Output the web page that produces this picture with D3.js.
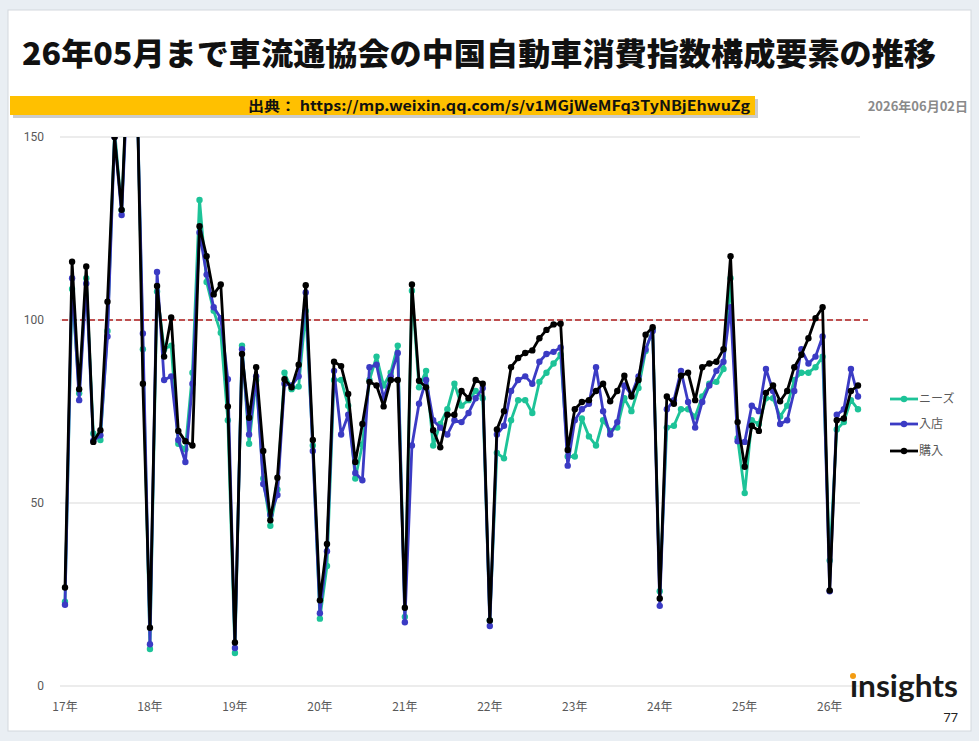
<!DOCTYPE html>
<html>
<head>
<meta charset="utf-8">
<script src="https://cdn.jsdelivr.net/npm/d3@7"></script>
<style>
  body { margin: 0; background: #e9eef3; }
  svg { display: block; font-family: "Noto Sans CJK JP", "Noto Sans", sans-serif; }
</style>
</head>
<body>
<svg id="chart" width="979" height="741"></svg>
<script>
// monthly values, 2017-01 .. 2026-05
const needs = [23,108.5,80,111.4,69,67.2,97,152,130,175,178,92,
  10.1,107.8,92,93,66.2,64.7,85.6,132.8,110.4,102.5,96.5,72.6,
  9,93,66.2,83.6,56.7,43.8,53.7,85.6,81.1,81.8,102.5,65.7,
  18.4,32.8,83.6,83.6,76.6,56.7,66,83.6,90,82.1,85.6,93,
  18.9,108,81.6,86.1,65.7,71.6,75.6,82.6,76.6,78.1,80.6,78.6,
  17.9,63.7,62.2,72.6,78.1,78.1,74.6,83.1,85.6,88.1,90.5,62.7,
  62.7,73.1,68.2,65.7,72.6,69.7,70.6,78.6,75.1,81.4,91.5,97.5,
  25.9,70.6,71.1,75.6,75.6,73.6,79.1,82.6,83.1,86.6,111.4,67.7,
  52.7,72.6,71.6,78.6,78.6,73.6,76.6,83.6,85.6,85.6,87.1,90,
  34.3,70.1,72.1,78.1,75.6];
const visit = [22.2,111.4,78.1,110,67,68.5,95.5,150,128.7,172,175,96.3,
  11.4,113.1,83.6,84.6,67.2,61.2,82.6,123.9,112.4,103.5,100.5,83.8,
  10.4,92,68.7,84.6,55.2,46.8,52.2,82.6,82.1,84.6,107.5,64.2,
  19.9,36.8,86.1,68.7,74.1,58.2,56.2,87.1,87.8,78.6,84.6,91,
  17.4,65.7,77.1,83.6,72.6,70.6,68.7,72.6,72.1,74.6,78.6,81.4,
  16.4,68.7,71.1,80.6,83.6,84.6,82.6,88.6,90.7,91.3,92.5,60.2,
  72.6,75.6,77.1,87.1,75.1,68.7,72.1,82.1,79.6,84.6,92,97,
  21.9,75.6,78.1,86.1,77.6,70.6,77.6,82.1,86.1,88.6,103.5,66.9,
  66.7,76.6,75.1,86.6,80.6,71.6,72.6,80.6,92,88.1,90,95.5,
  25.9,74.1,75.6,86.6,79.1];
const purchase = [26.9,115.9,81.1,114.6,66.7,69.9,105,150,130.1,177,182,82.6,
  15.9,109.3,90,100.7,69.7,66.9,65.7,125.6,117.4,107,109.7,76.4,
  11.9,90.7,73.3,87.1,64.2,45.3,56.9,83.8,81.6,87.8,109.5,67.2,
  23.4,38.8,88.6,87.4,79.8,61.2,71.6,83.1,82.1,76.4,83.6,83.6,
  21.4,109.7,83.4,81.6,69.9,65.2,74.1,74.1,80.6,78.6,83.6,82.6,
  17.9,70.1,75.1,87.1,89.6,91,91.7,95,97.3,98.8,99,64.5,
  75.6,77.6,78.1,80.6,82.6,77.8,80.6,84.8,79.1,83.6,96,98,
  23.9,79.1,77.1,84.8,85.6,78.1,87.1,88.1,88.6,92,117.4,72.1,
  59.9,71.1,69.7,80.1,82.1,77.8,80.6,87.1,90.5,95,100.5,103.5,
  26.1,72.6,73.1,80.6,82.1];

const seriesNames = ['ニーズ', '入店', '購入'];
const seriesColors = ['#1dc398', '#3b3bc4', '#000000'];
const yearLabels = ['17年','18年','19年','20年','21年','22年','23年','24年','25年','26年'];
const yTicks = [0, 50, 100, 150];
const refValue = 100;

const title = '26年05月まで車流通協会の中国自動車消費指数構成要素の推移';
const source = '出典： https://mp.weixin.qq.com/s/v1MGjWeMFq3TyNBjEhwuZg';
const dateText = '2026年06月02日';

const svg = d3.select('#chart');

// card background
svg.append('rect')
  .attr('x', 8).attr('y', 10)
  .attr('width', 963).attr('height', 721)
  .attr('fill', '#fff')
  .attr('stroke', '#d3d8de');

svg.append('text')
  .attr('x', 22).attr('y', 65)
  .attr('font-size', 31)
  .attr('font-weight', 900)
  .attr('fill', '#111')
  .attr('textLength', 914)
  .attr('lengthAdjust', 'spacingAndGlyphs')
  .text(title);

// source banner with a soft shadow
svg.append('rect')
  .attr('x', 13).attr('y', 99)
  .attr('width', 745).attr('height', 19)
  .attr('fill', '#9a9a9a').attr('opacity', 0.5);
svg.append('rect')
  .attr('x', 10).attr('y', 96)
  .attr('width', 745).attr('height', 19)
  .attr('fill', '#ffc000');
svg.append('text')
  .attr('x', 750).attr('y', 111)
  .attr('text-anchor', 'end')
  .attr('font-size', 14)
  .attr('font-weight', 700)
  .attr('fill', '#111')
  .attr('textLength', 502)
  .attr('lengthAdjust', 'spacingAndGlyphs')
  .text(source);

svg.append('text')
  .attr('x', 968).attr('y', 111)
  .attr('text-anchor', 'end')
  .attr('font-size', 13)
  .attr('font-weight', 700)
  .attr('fill', '#8a8a8a')
  .text(dateText);

// chart
const n = purchase.length;
const xScale = d3.scaleLinear().domain([0, n - 1]).range([65, 858]);
const yScale = d3.scaleLinear().domain([0, 150]).range([686, 137]);

const grid = svg.append('g');
grid.selectAll('line')
  .data(yTicks)
  .join('line')
  .attr('x1', 60).attr('x2', 860)
  .attr('y1', d => yScale(d)).attr('y2', d => yScale(d))
  .attr('stroke', '#d9d9d9')
  .attr('stroke-width', 1);

grid.selectAll('text')
  .data(yTicks)
  .join('text')
  .attr('x', 44)
  .attr('y', d => yScale(d) + 4)
  .attr('text-anchor', 'end')
  .attr('font-size', 12)
  .attr('font-family', 'Roboto, "Noto Sans", sans-serif')
  .attr('fill', '#595959')
  .text(d => d);

svg.append('g').selectAll('text')
  .data(yearLabels)
  .join('text')
  .attr('x', (d, i) => xScale(i * 12))
  .attr('y', 711)
  .attr('text-anchor', 'middle')
  .attr('font-size', 12)
  .attr('fill', '#595959')
  .text(d => d);

svg.append('line')
  .attr('x1', 62).attr('x2', 868)
  .attr('y1', yScale(refValue)).attr('y2', yScale(refValue))
  .attr('stroke', '#b01c1c')
  .attr('stroke-width', 1.6)
  .attr('stroke-dasharray', '6,3');

svg.append('clipPath').attr('id', 'plot-clip')
  .append('rect')
  .attr('x', 50).attr('y', yScale(150))
  .attr('width', 820).attr('height', yScale(0) - yScale(150) + 10);

const series = [needs, visit, purchase];
const line = d3.line()
  .x((d, i) => xScale(i))
  .y(d => yScale(d));

const plot = svg.append('g').attr('clip-path', 'url(#plot-clip)');
series.forEach((values, s) => {
  const g = plot.append('g');
  g.append('path')
    .datum(values)
    .attr('d', line)
    .attr('fill', 'none')
    .attr('stroke', seriesColors[s])
    .attr('stroke-width', 2.8)
    .attr('stroke-linejoin', 'round');
  g.selectAll('circle')
    .data(values)
    .join('circle')
    .attr('cx', (d, i) => xScale(i))
    .attr('cy', d => yScale(d))
    .attr('r', 3.2)
    .attr('fill', seriesColors[s]);
});

// legend
const legend = svg.append('g');
const legendY = [399, 424, 451];
seriesNames.forEach((name, s) => {
  const row = legend.append('g').attr('transform', `translate(890,${legendY[s]})`);
  row.append('line')
    .attr('x1', 0).attr('x2', 28)
    .attr('stroke', seriesColors[s])
    .attr('stroke-width', 2.8);
  row.append('circle')
    .attr('cx', 14).attr('r', 3.2)
    .attr('fill', seriesColors[s]);
  row.append('text')
    .attr('x', 29).attr('y', 4)
    .attr('font-size', 12)
    .attr('fill', '#595959')
    .text(name);
});

// logo + page number
svg.append('text')
  .attr('x', 850).attr('y', 697)
  .attr('font-size', 30)
  .attr('font-weight', 700)
  .attr('font-family', 'Lato, "Open Sans", sans-serif')
  .attr('fill', '#1a1a1a')
  .attr('textLength', 108)
  .attr('lengthAdjust', 'spacingAndGlyphs')
  .text('ınsights');
svg.append('circle')
  .attr('cx', 853).attr('cy', 676)
  .attr('r', 3)
  .attr('fill', '#f39c12');
svg.append('text')
  .attr('x', 958).attr('y', 722)
  .attr('text-anchor', 'end')
  .attr('font-size', 13)
  .attr('font-family', 'Roboto, sans-serif')
  .attr('fill', '#222')
  .text('77');
</script>
</body>
</html>
